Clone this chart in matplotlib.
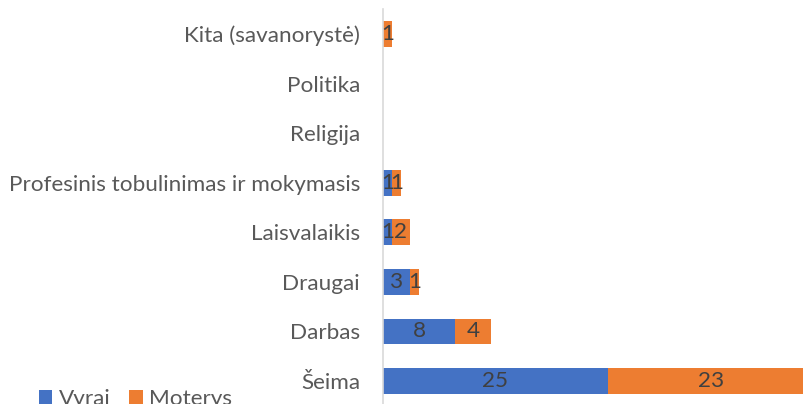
import matplotlib
matplotlib.use("Agg")
import matplotlib.pyplot as plt
import numpy as np

categories = ["Šeima", "Darbas", "Draugai", "Laisvalaikis",
              "Profesinis tobulinimas ir mokymasis", "Religija", "Politika",
              "Kita (savanorystė)"]
vyrai = [25, 8, 3, 1, 1, 0, 0, 0]
moterys = [23, 4, 1, 2, 1, 0, 0, 1]
series_names = ["Vyrai", "Moterys"]
colors = ["#4472C4", "#ED7D31"]

plt.rcParams['font.family'] = ['Lato', 'DejaVu Sans']
FS = 16.2

W, H = 804, 404
fig = plt.figure(figsize=(W / 100, H / 100), dpi=100)
left_px, top_px, bottom_px = 383, 9.2, 405.8
ax = fig.add_axes([left_px / W, (H - bottom_px) / H, (W - left_px) / W, (bottom_px - top_px) / H])

y = np.arange(len(categories))
bh = 0.52
b1 = ax.barh(y, vyrai, height=bh, color=colors[0], label=series_names[0])
b2 = ax.barh(y, moterys, left=vyrai, height=bh, color=colors[1], label=series_names[1])

for bars, vals in ((b1, vyrai), (b2, moterys)):
    for rect, v in zip(bars, vals):
        if v > 0:
            ax.text(rect.get_x() + rect.get_width() / 2, rect.get_y() + rect.get_height() / 2,
                    str(v), ha='center', va='center', fontsize=FS, color='#404040')

ax.set_xlim(0, (W - left_px) / 9.0)
ax.set_ylim(-0.5, len(categories) - 0.5)
ax.set_yticks(y)
ax.set_yticklabels(categories, fontsize=FS, color='#595959')
ax.tick_params(axis='y', length=0, pad=16.5)
ax.set_xticks([])
for s in ('top', 'right', 'bottom'):
    ax.spines[s].set_visible(False)
ax.spines['left'].set_color('#D9D9D9')
ax.spines['left'].set_linewidth(1.2)

fig.legend(handles=[b1, b2], labels=series_names, loc='center left',
           bbox_to_anchor=(39 / W, (H - 399) / H), ncol=2, frameon=False,
           fontsize=FS, handlelength=0.6, handleheight=0.6, handletextpad=0.3,
           columnspacing=0.8, labelcolor='#595959', borderaxespad=0, borderpad=0)

fig.savefig("out.png", dpi=100)
